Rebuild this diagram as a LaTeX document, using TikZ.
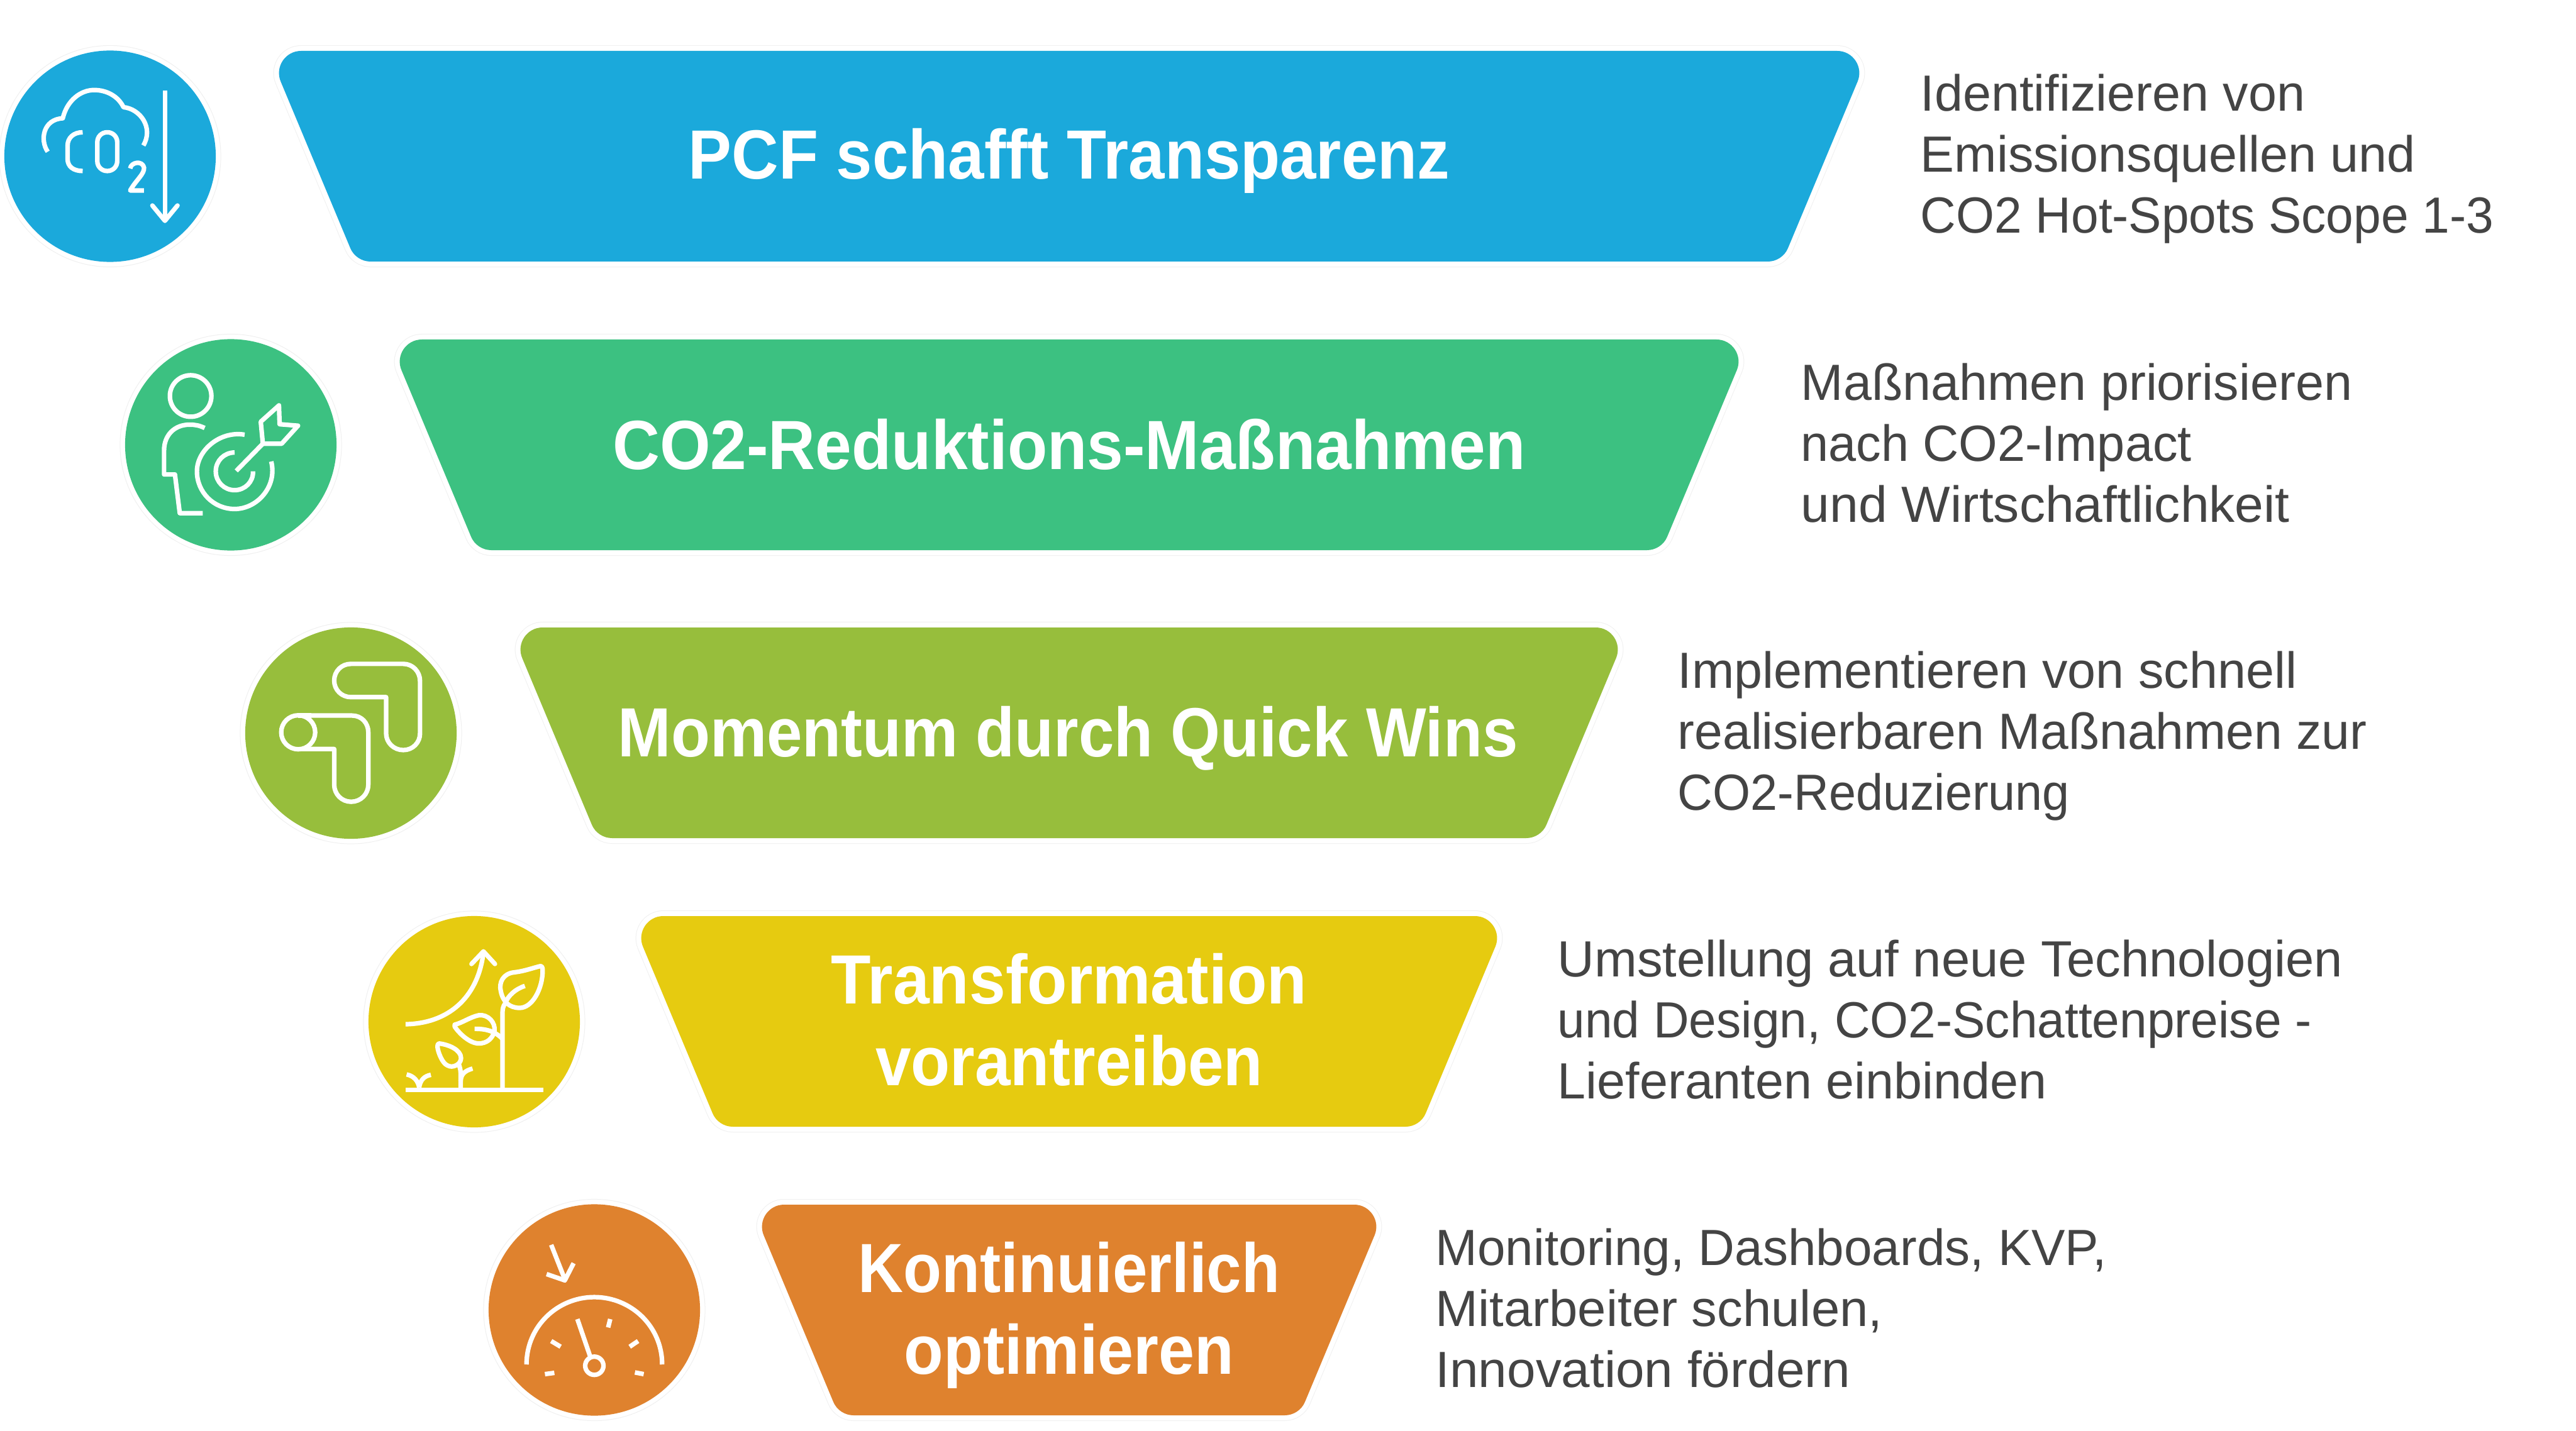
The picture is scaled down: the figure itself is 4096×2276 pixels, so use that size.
\documentclass[tikz,border=0pt]{standalone}
\usepackage{fontspec}
\setmainfont{Liberation Sans}
\definecolor{cblue}{HTML}{1BA9DB}
\definecolor{cgreen}{HTML}{3CC181}
\definecolor{clime}{HTML}{97BE3C}
\definecolor{cyellow}{HTML}{E6CB10}
\definecolor{corange}{HTML}{DF822E}
\definecolor{ctext}{HTML}{444444}
\definecolor{chalo}{HTML}{F0F0F0}
\tikzset{
  x=0.01cm,y=-0.01cm,
  halo/.style={draw=chalo,line width=0.18cm,line join=round},
  haloin/.style={draw=white,line width=0.16cm,line join=round},
  icon/.style={draw=white,line width=2.05pt,line join=round,line cap=butt},
  title/.style={text=white,font=\fontsize{31.5}{37}\selectfont\bfseries,align=center,anchor=center},
  desc/.style={text=ctext,font=\fontsize{23}{27.6}\selectfont,align=left,anchor=west,inner sep=0pt},
}
\newcommand{\sx}[2]{\scalebox{#1}[1]{#2}}
% rounded trapezoid outline: #1 left-top x, #2 top y
\newcommand{\trappath}[2]{%
  (#1+52.7,#2) -- (3400-#1-52.7,#2)
  .. controls (3400-#1-27.7,#2) and (3400-#1-10.7,#2+25.6) .. (3400-#1-20.3,#2+48.6)
  -- (3260-#1+9,#2+313.6)
  .. controls (3260-#1+3.6,#2+326.5) and (3260-#1-9.2,#2+335) .. (3260-#1-23.2,#2+335)
  -- (#1+163.2,#2+335)
  .. controls (#1+149.2,#2+335) and (#1+136.4,#2+326.5) .. (#1+131,#2+313.6)
  -- (#1+20.3,#2+48.6)
  .. controls (#1+10.7,#2+25.6) and (#1+27.7,#2) .. (#1+52.7,#2) -- cycle}
\newcommand{\trap}[3]{%
  \path[halo] \trappath{#1}{#2};
  \path[haloin] \trappath{#1}{#2};
  \path[fill=#3] \trappath{#1}{#2};
}
\newcommand{\disc}[3]{%
  \path[draw=chalo,fill=white,line width=0.01cm] (#1,#2) circle[radius=1.76cm];
  \path[fill=#3] (#1,#2) circle[radius=1.68cm];
}
\begin{document}
\begin{tikzpicture}
\useasboundingbox[fill=white] (0,0) rectangle (4096,2276);

\trap{426}{81}{cblue}
\trap{618}{540}{cgreen}
\trap{810}{998}{clime}
\trap{1002}{1457}{cyellow}
\trap{1194}{1916}{corange}

\disc{175}{248.5}{cblue}
\disc{367}{707.5}{cgreen}
\disc{558}{1166}{clime}
\disc{754}{1625}{cyellow}
\disc{945}{2083.5}{corange}

\node[title] (t1) at (1700,256) {\sx{0.932}{PCF schafft Transparenz}};
\node[title] (t2) at (1700,707) {\sx{0.936}{CO2-Reduktions-Maßnahmen}};
\node[title] (t3) at (1698,1174) {\sx{0.916}{Momentum durch Quick Wins}};
\node[title] (t4) at (1700,1622) {\sx{0.938}{Transformation}\\\sx{0.918}{vorantreiben}};
\node[title] (t5) at (1700,2092) {\sx{0.90}{Kontinuierlich}\\\sx{0.926}{optimieren}};

\node[desc] (d1) at (3053,253) {Identifizieren von\\Emissionsquellen und\\\sx{0.97}{CO2 Hot-Spots Scope 1-3}};
\node[desc] (d2) at (2863,705) {Maßnahmen priorisieren\\\sx{0.98}{nach CO2-Impact}\\\sx{1.017}{und Wirtschaftlichkeit}};
\node[desc] (d3) at (2667,1171) {Implementieren von schnell\\\sx{0.995}{realisierbaren Maßnahmen zur}\\\sx{0.956}{CO2-Reduzierung}};
\node[desc] (d4) at (2476,1622) {\sx{1.006}{Umstellung auf neue Technologien}\\\sx{0.97}{und Design, CO2-Schattenpreise -}\\Lieferanten einbinden};
\node[desc] (d5) at (2282,2081) {\sx{0.99}{Monitoring, Dashboards, KVP,}\\\sx{1.007}{Mitarbeiter schulen,}\\\sx{1.012}{Innovation fördern}};

% icon 1
\begin{scope}[shift={(0,50)},x=0.00333cm,y=-0.00333cm,icon]
\draw (228,575) .. controls (190,520) and (205,420) .. (300,415) .. controls (320,330) and (385,280) .. (450,280) .. controls (510,280) and (565,310) .. (590,362) .. controls (670,370) and (735,460) .. (685,545);
\draw (395,482) .. controls (350,482) and (323,510) .. (323,545) -- (323,610) .. controls (323,645) and (350,667) .. (395,667);
\draw[rounded corners=0.155cm] (465,482) rectangle (560,667);
\draw (622,655) .. controls (625,625) and (680,615) .. (688,650) .. controls (692,680) and (650,710) .. (622,760) -- (688,760);
\draw (788,282) -- (788,905);
\draw[line cap=round] (728,832) -- (788,905) -- (848,832);
\end{scope}

% icon 2
\begin{scope}[shift={(180,520)},x=0.00333cm,y=-0.00333cm,icon]
\draw (370,330) circle[radius=0.33cm];
\draw (437,483) .. controls (410,470) and (390,467) .. (365,467) .. controls (290,467) and (243,520) .. (243,590) -- (243,705) -- (295,705) -- (318,890) -- (428,890);
\draw (628,515) .. controls (510,495) and (400,590) .. (400,690) .. controls (400,790) and (480,870) .. (580,870) .. controls (690,870) and (785,760) .. (755,643);
\draw (580,600) .. controls (530,600) and (490,640) .. (490,690) .. controls (490,740) and (530,780) .. (580,780) .. controls (630,780) and (670,740) .. (668,690);
\draw (588,688) -- (715,558);
\draw[line cap=round] (715,558) -- (705,453) -- (792,375) -- (795,465) -- (883,472) -- (805,558) -- cycle;
\end{scope}

% icon 3
\begin{scope}[shift={(370,980)},x=0.00333cm,y=-0.00333cm,icon]
\draw (733,387) -- (565,387) .. controls (520,387) and (485,352) .. (485,308) .. controls (485,263) and (520,228) .. (565,228) -- (815,228) .. controls (860,228) and (895,265) .. (895,310) -- (895,560) .. controls (895,605) and (860,640) .. (815,640) .. controls (770,640) and (733,605) .. (733,560) -- cycle;
\draw (375,635) -- (485,635) -- (485,805) .. controls (485,850) and (520,887) .. (566,887) .. controls (612,887) and (648,850) .. (648,805) -- (648,555) .. controls (648,510) and (615,475) .. (570,475) -- (375,475);
\draw (313,555) circle[radius=0.27cm];
\draw (313,475) -- (375,475) (313,635) -- (375,635);
\end{scope}

% icon 4
\begin{scope}[shift={(570,1430)},x=0.00333cm,y=-0.00333cm,icon]
\draw (225,912) -- (882,912);
\draw (230,838) .. controls (265,845) and (285,870) .. (290,900);
\draw (346,840) .. controls (315,845) and (295,865) .. (290,900);
\draw (488,905) -- (488,830) .. controls (488,815) and (483,800) .. (478,785);
\draw (545,810) .. controls (510,820) and (490,835) .. (488,870);
\draw (385,690) .. controls (430,695) and (490,720) .. (490,760) .. controls (490,790) and (450,810) .. (425,795) .. controls (400,785) and (380,730) .. (378,710) .. controls (377,695) and (380,690) .. (385,690) -- cycle;
\draw (688,905) -- (688,545) .. controls (688,525) and (692,510) .. (700,500);
\draw (795,415) .. controls (750,430) and (715,460) .. (700,500);
\draw (870,320) .. controls (830,330) and (790,345) .. (745,350) .. controls (690,355) and (670,400) .. (680,440) .. controls (690,490) and (720,520) .. (770,520) .. controls (830,520) and (880,430) .. (880,340) .. controls (880,325) and (875,318) .. (870,320) -- cycle;
\draw (460,600) .. controls (500,590) and (530,565) .. (575,555) .. controls (620,550) and (655,590) .. (650,630) .. controls (640,670) and (610,690) .. (575,690) .. controls (530,690) and (480,640) .. (460,610) -- cycle;
\draw (555,620) .. controls (610,620) and (650,630) .. (688,668);
\draw (225,598) .. controls (420,595) and (570,480) .. (597,255);
\draw[line cap=round] (540,310) -- (597,250) -- (652,310);
\end{scope}

% icon 5
\begin{scope}[shift={(750,1890)},x=0.00333cm,y=-0.00333cm,icon]
\draw (380,270) -- (445,435);
\draw (358,410) -- (445,440) -- (487,358);
\draw (262,842) .. controls (262,660) and (410,520) .. (586,520) .. controls (762,520) and (910,660) .. (910,842);
\draw (505,625) -- (565,800);
\draw (586,848) circle[radius=0.145cm];
\draw (662,625) -- (652,665);
\draw (795,730) -- (755,757);
\draw (822,888) -- (780,880);
\draw (395,882) -- (350,888);
\draw (380,730) -- (425,757);
\end{scope}
\end{tikzpicture}
\end{document}
